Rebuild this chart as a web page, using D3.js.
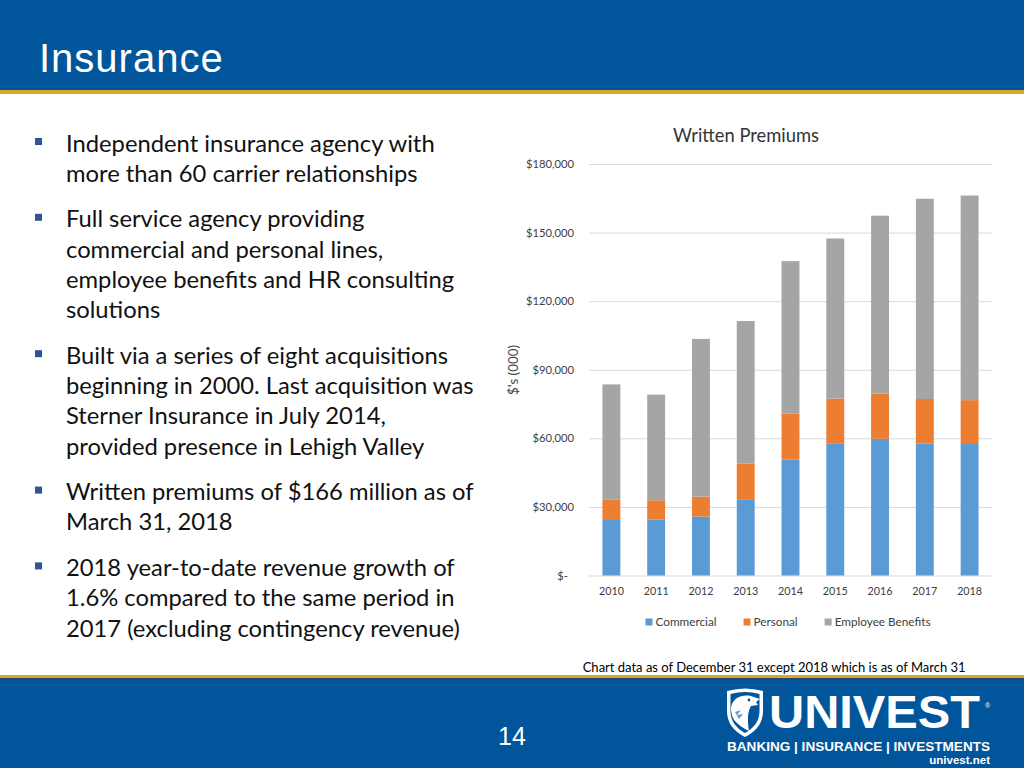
<!DOCTYPE html>
<html>
<head>
<meta charset="utf-8">
<script src="https://cdn.jsdelivr.net/npm/d3@7"></script>
<style>
  html, body { margin: 0; padding: 0; background: #fff; }
  svg { display: block; }
</style>
</head>
<body>
<script>
// ---------------- DATA ----------------
const years = ["2010", "2011", "2012", "2013", "2014", "2015", "2016", "2017", "2018"];
const commercial = [24300, 24400, 25800, 33100, 50700, 57600, 59800, 57700, 57500];
const personal = [8800, 8500, 8700, 15900, 20200, 19800, 19800, 19500, 19200];
const employeeBenefits = [50500, 46200, 69000, 62300, 66600, 70000, 77800, 87600, 89500];
const seriesNames = ["Commercial", "Personal", "Employee Benefits"];
const yTicks = [0, 30000, 60000, 90000, 120000, 150000, 180000];
const chartTitle = "Written Premiums";
const yAxisTitle = "$'s (000)";
const footnote = "Chart data as of December 31 except 2018 which is as of March 31";
const slideTitle = "Insurance";
const pageNumber = "14";
const bullets = [
  ["Independent insurance agency with", "more than 60 carrier relationships"],
  ["Full service agency providing", "commercial and personal lines,", "employee benefits and HR consulting", "solutions"],
  ["Built via a series of eight acquisitions", "beginning in 2000. Last acquisition was", "Sterner Insurance in July 2014,", "provided presence in Lehigh Valley"],
  ["Written premiums of $166 million as of", "March 31, 2018"],
  ["2018 year-to-date revenue growth of", "1.6% compared to the same period in", "2017 (excluding contingency revenue)"]
];

// ---------------- STYLE ----------------
const colors = ["#5B9BD5", "#ED7D31", "#A5A5A5"];
const BLUE = "#00559B", GOLD = "#D6A82B";
const FONT = "Lato, 'Open Sans', sans-serif";
const W = 1024, H = 768;

const svg = d3.select("body").append("svg").attr("width", W).attr("height", H);

function fitSize(str, target, family, weight) {
  const t = svg.append("text").attr("font-family", family).attr("font-size", 100)
    .attr("font-weight", weight || "normal").text(str);
  const w = t.node().getComputedTextLength();
  t.remove();
  return 100 * target / w;
}

// ---------------- HEADER ----------------
svg.append("rect").attr("x", 0).attr("y", 0).attr("width", W).attr("height", 90).attr("fill", BLUE);
svg.append("rect").attr("x", 0).attr("y", 90).attr("width", W).attr("height", 4).attr("fill", GOLD);
svg.append("text").attr("x", 39).attr("y", 72)
  .attr("font-family", "'Liberation Sans', Arial, sans-serif").attr("font-size", 40)
  .attr("letter-spacing", 1).attr("fill", "#fff").text(slideTitle);

// ---------------- BULLETS ----------------
const bulletSize = fitSize(bullets[0][0], 369, FONT);
const lineStep = 30.3, paraGap = 45.5;
let yb = 151.5;
const bulletG = svg.append("g");
bullets.forEach((para) => {
  bulletG.append("rect").attr("x", 35).attr("y", yb - 13.5).attr("width", 7).attr("height", 7).attr("fill", "#2F5597");
  para.forEach((line, li) => {
    bulletG.append("text").attr("x", 66).attr("y", yb + li * lineStep)
      .attr("font-family", FONT).attr("font-size", bulletSize).attr("fill", "#111").text(line);
  });
  yb += (para.length - 1) * lineStep + paraGap;
});

// ---------------- CHART ----------------
const plot = { left: 589, right: 992, top: 164, bottom: 575.5 };
const x = d3.scaleBand().domain(years).range([plot.left, plot.right]).paddingInner(0.6).paddingOuter(0.3);
const y = d3.scaleLinear().domain([0, 180000]).range([plot.bottom, plot.top]);

const tickSize = fitSize("$180,000", 48, FONT);
const yearSize = fitSize("2010", 25, FONT);
const legendSize = fitSize("Employee Benefits", 96, FONT);
const titleSize = fitSize(chartTitle, 146, FONT);
const axisTitleSize = fitSize(yAxisTitle, 50, FONT);
const footSize = fitSize(footnote, 383, FONT);

// gridlines + y labels
const yAxis = d3.axisLeft(y).tickValues(yTicks).tickSize(-(plot.right - plot.left)).tickPadding(15)
  .tickFormat(d => d === 0 ? "$-" : "$" + d3.format(",")(d));
const gy = svg.append("g").attr("transform", `translate(${plot.left},0)`).call(yAxis);
gy.select(".domain").remove();
gy.selectAll(".tick line").attr("stroke", "#D9D9D9").attr("stroke-width", 1);
gy.selectAll(".tick text").attr("font-family", FONT).attr("font-size", tickSize).attr("fill", "#404040")
  .attr("dy", "0.32em");
gy.selectAll(".tick").filter(d => d === 0).select("text").attr("dx", -6);

// stacked bars
const rows = years.map((yr, i) => ({ year: yr, Commercial: commercial[i], Personal: personal[i], "Employee Benefits": employeeBenefits[i] }));
const stack = d3.stack().keys(seriesNames)(rows);
svg.append("g").selectAll("g").data(stack).join("g").attr("fill", (d, i) => colors[i])
  .selectAll("rect").data(d => d).join("rect")
  .attr("x", d => x(d.data.year))
  .attr("width", x.bandwidth())
  .attr("y", d => y(d[1]))
  .attr("height", d => y(d[0]) - y(d[1]));

// x axis labels
const xAxis = d3.axisBottom(x).tickSize(0).tickPadding(12);
const gx = svg.append("g").attr("transform", `translate(0,${plot.bottom})`).call(xAxis);
gx.select(".domain").remove();
gx.selectAll(".tick text").attr("font-family", FONT).attr("font-size", yearSize).attr("fill", "#404040");

// title
svg.append("text").attr("x", 746).attr("y", 141.7).attr("text-anchor", "middle")
  .attr("font-family", FONT).attr("font-size", titleSize).attr("fill", "#333").text(chartTitle);

// y axis title
svg.append("text").attr("transform", "translate(518,370) rotate(-90)").attr("text-anchor", "middle")
  .attr("font-family", FONT).attr("font-size", axisTitleSize).attr("fill", "#404040").text(yAxisTitle);

// legend
const legendG = svg.append("g");
const items = seriesNames.map((n, i) => {
  const g = legendG.append("g");
  g.append("rect").attr("width", 7).attr("height", 7).attr("y", -7.5).attr("fill", colors[i]);
  const t = g.append("text").attr("x", 10).attr("y", 0).attr("font-family", FONT)
    .attr("font-size", legendSize).attr("fill", "#404040").text(n);
  return { g, w: 10 + t.node().getComputedTextLength() };
});
const gap = 27;
const totalW = d3.sum(items, d => d.w) + gap * (items.length - 1);
let lx = 788 - totalW / 2;
items.forEach(it => { it.g.attr("transform", `translate(${lx},626)`); lx += it.w + gap; });

// footnote
svg.append("text").attr("x", 582.7).attr("y", 671.7).attr("font-family", FONT)
  .attr("font-size", footSize).attr("fill", "#000").text(footnote);

// ---------------- FOOTER ----------------
svg.append("rect").attr("x", 0).attr("y", 675).attr("width", W).attr("height", 3).attr("fill", GOLD);
svg.append("rect").attr("x", 0).attr("y", 678).attr("width", W).attr("height", 2).attr("fill", "#27476a");
svg.append("rect").attr("x", 0).attr("y", 680).attr("width", W).attr("height", H - 680).attr("fill", BLUE);
svg.append("text").attr("x", 512).attr("y", 745).attr("text-anchor", "middle")
  .attr("font-family", "'Liberation Sans Narrow', 'Arial Narrow', 'Liberation Sans', sans-serif")
  .attr("font-size", 25).attr("fill", "#fff").text(pageNumber);

// logo
const logo = svg.append("g");
logo.append("path").attr("d", "M727,691 Q745,686 763,691 L763,711 Q763,728 745,737 Q727,728 727,711 Z").attr("fill", "#fff");
logo.append("path").attr("d", "M730.5,694 Q745,690 759.5,694 L759.5,711 Q759.5,725 745,733 Q730.5,725 730.5,711 Z").attr("fill", BLUE);
logo.append("path").attr("d", "M731,708 C732,698 742,694 751,696 L760,699 L756,702 L758,705 L751,706 C748,711 747,718 749,731 Q740,727 734,720 Q731,715 731,708 Z").attr("fill", "#fff");
logo.append("circle").attr("cx", 749).attr("cy", 700).attr("r", 1.4).attr("fill", BLUE);
logo.append("path").attr("d", "M735,712 L741,710 L737,715 L743,714 L739,719 Z").attr("fill", BLUE).attr("opacity", 0.6);
logo.append("text").attr("x", 769).attr("y", 728).attr("font-family", "'Liberation Sans', Arial, sans-serif")
  .attr("font-weight", "bold").attr("font-size", 47).attr("fill", "#fff")
  .attr("textLength", 211).attr("lengthAdjust", "spacingAndGlyphs").text("UNIVEST");
logo.append("text").attr("x", 985).attr("y", 708).attr("font-family", "'Liberation Sans', Arial, sans-serif")
  .attr("font-size", 7).attr("fill", "#fff").text("®");
logo.append("text").attr("x", 727).attr("y", 751).attr("font-family", "'Liberation Sans', Arial, sans-serif")
  .attr("font-weight", "bold").attr("font-size", 13).attr("fill", "#fff")
  .attr("textLength", 263).attr("lengthAdjust", "spacingAndGlyphs").text("BANKING | INSURANCE | INVESTMENTS");
logo.append("text").attr("x", 990).attr("y", 764).attr("text-anchor", "end").attr("font-family", "'Liberation Sans', Arial, sans-serif")
  .attr("font-weight", "bold").attr("font-size", 11.5).attr("fill", "#fff").text("univest.net");
</script>
</body>
</html>
